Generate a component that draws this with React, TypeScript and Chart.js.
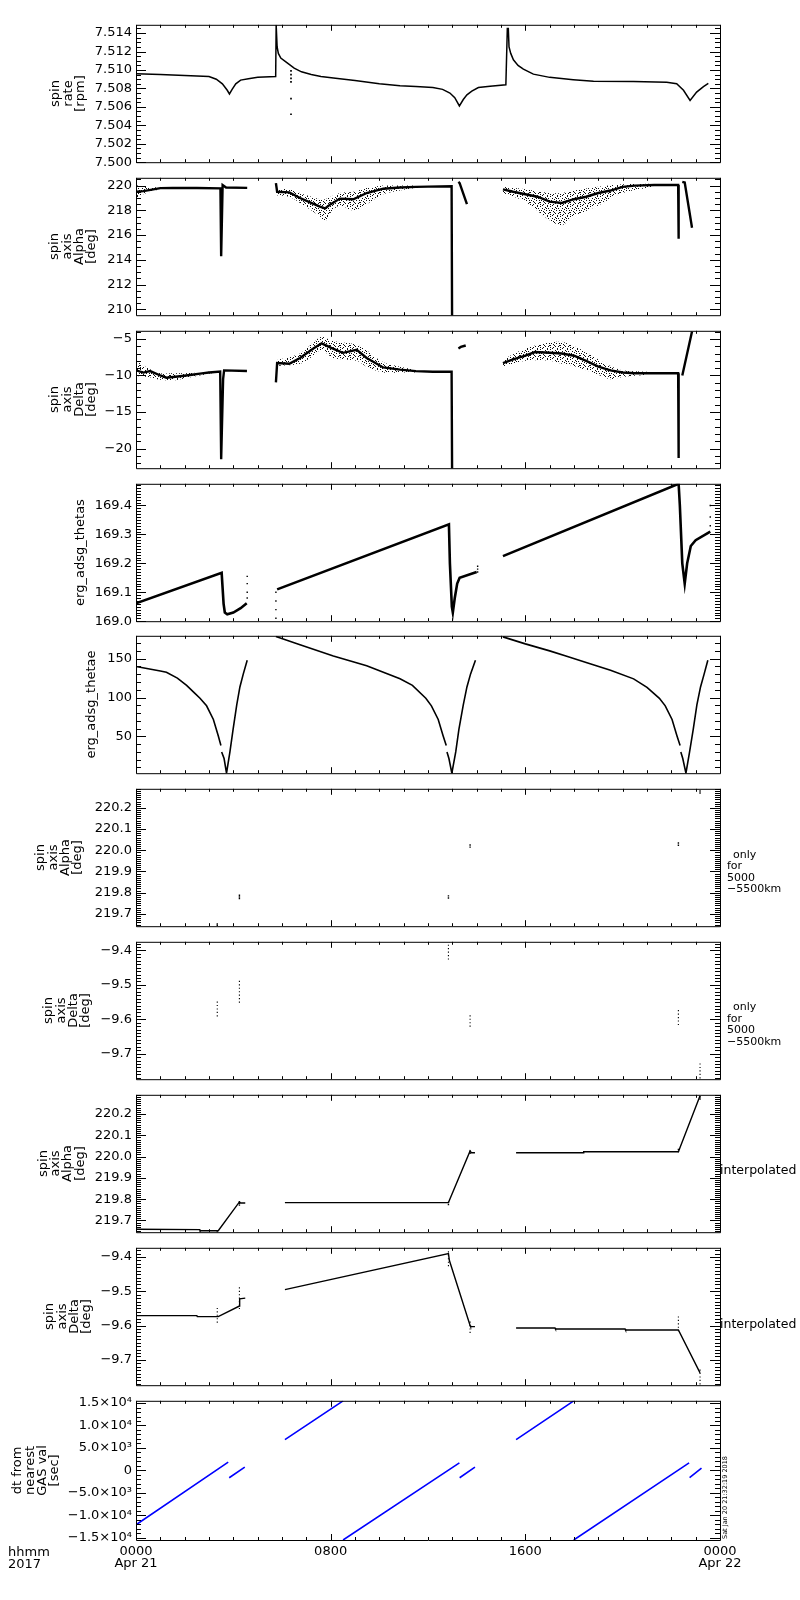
import React, { useEffect, useRef } from 'react';
import { Chart, registerables } from 'chart.js';

Chart.register(...registerables);

const FONT = '"DejaVu Sans", sans-serif';
const PAD = 10;
const PLOT_H = 141;
const XAXIS_H = 50;

// ---- shared time axis (hours after 0000 UT Apr 21 2017)
const hourTicks = [0, 8, 16, 24];
const hourLabels = [['0000', 'Apr 21'], ['0800'], ['1600'], ['0000', 'Apr 22']];
const panelTops = [23, 176, 329, 482, 634, 787, 940, 1093, 1246, 1399];

// ---- panel 1: spin rate [rpm]
const rateTicks = [7.5, 7.502, 7.504, 7.506, 7.508, 7.51, 7.512, 7.514];
const rateLabels = ['7.500', '7.502', '7.504', '7.506', '7.508', '7.510', '7.512', '7.514'];
const rateHours = [0, 1, 2, 3, 3.3, 3.55, 3.75, 3.84, 3.95, 4.1, 4.3, 4.62, 5.0, 5.74, 5.76, 5.8, 5.85, 5.95, 6.2, 6.5, 6.8, 7.2, 7.6, 8.2, 9.0, 10.0, 10.85, 11.5, 12.2, 12.6, 12.9, 13.1, 13.29, 13.45, 13.6, 13.8, 14.07, 14.55, 15.2, 15.26, 15.3, 15.33, 15.4, 15.51, 15.7, 15.92, 16.33, 17.0, 17.97, 18.8, 20.44, 21.81, 22.22, 22.5, 22.77, 23.04, 23.32, 23.52];
const rateValues = [7.5096, 7.5095, 7.5094, 7.5093, 7.509, 7.5085, 7.5078, 7.5074, 7.5079, 7.5085, 7.5089, 7.50905, 7.5092, 7.5093, 7.5149, 7.5125, 7.5118, 7.5113, 7.5108, 7.5102, 7.5098, 7.5095, 7.5093, 7.5091, 7.50885, 7.5085, 7.5083, 7.5082, 7.5081, 7.5079, 7.5075, 7.507, 7.5061, 7.5068, 7.5073, 7.5077, 7.5081, 7.50824, 7.5084, 7.5145, 7.5145, 7.5125, 7.5118, 7.5111, 7.5105, 7.5101, 7.50955, 7.5092, 7.50895, 7.50877, 7.50874, 7.50866, 7.5085, 7.5078, 7.5067, 7.5076, 7.5082, 7.50856];
const rateSpikeHours = [6.37, 6.37, 6.37, 6.37, 6.37, 6.37];
const rateSpikeValues = [7.5099, 7.5095, 7.5091, 7.5087, 7.5069, 7.5052];

// ---- panel 2: spin axis Alpha [deg]
const alphaTicks = [210, 212, 214, 216, 218, 220];
const alphaLabels = ['210', '212', '214', '216', '218', '220'];
const alphaHours = [0, 0.3, 0.6, 1.0, 1.5, 2.5, 3.47, 3.5, 3.56, 3.7, 4.57, 5.0, 5.75, 5.8, 6.3, 6.74, 7.2, 7.56, 7.77, 8.0, 8.38, 8.93, 9.48, 10.16, 10.85, 11.5, 12.0, 12.97, 12.99, 13.1, 13.25, 13.3, 13.6, 14.3, 15.08, 15.5, 16.0, 16.5, 17.0, 17.5, 18.0, 18.5, 19.0, 19.5, 20.0, 20.5, 21.3, 22.28, 22.3, 22.4, 22.45, 22.55, 22.85];
const alphaValues = [219.5, 219.55, 219.65, 219.8, 219.82, 219.8, 219.78, 214.3, 220.05, 219.85, 219.82, null, 220.2, 219.5, 219.45, 219.0, 218.6, 218.3, 218.15, 218.5, 218.95, 218.9, 219.4, 219.75, 219.85, 219.9, 219.92, 219.95, 209.0, null, 220.3, 220.2, 218.5, null, 219.7, 219.5, 219.3, 219.1, 218.7, 218.6, 218.9, 219.1, 219.4, 219.6, 219.9, 220.0, 220.05, 220.05, 215.7, null, 220.3, 220.25, 216.6];
const alphaCloud1Hours = [0, 0.3, 0.6, 1.0];
const alphaCloud1High = [220.05, 219.9, 219.85, 219.9];
const alphaCloud1Low = [219.0, 219.3, 219.5, 219.7];
const alphaCloud2Hours = [5.8, 6.3, 6.74, 7.2, 7.56, 7.77, 8.0, 8.38, 8.93, 9.48, 10.16, 10.85, 11.5];
const alphaCloud2High = [219.7, 219.7, 219.4, 219.1, 218.9, 218.9, 219.1, 219.4, 219.5, 219.8, 220.0, 220.0, 220.0];
const alphaCloud2Low = [219.2, 219.1, 218.6, 218.0, 217.5, 217.1, 217.8, 218.4, 218.0, 218.5, 219.3, 219.6, 219.8];
const alphaCloud3Hours = [15.08, 16, 17, 17.5, 18, 19, 20, 21.3];
const alphaCloud3High = [219.9, 219.7, 219.4, 219.4, 219.6, 219.9, 220.1, 220.15];
const alphaCloud3Low = [219.4, 218.7, 217.2, 216.8, 217.5, 218.4, 219.4, 219.9];

// ---- panel 3: spin axis Delta [deg]
const deltaTicks = [-20, -15, -10, -5];
const deltaLabels = ['\u221220', '\u221215', '\u221210', '\u22125'];
const deltaHours = [0, 0.3, 0.58, 1.0, 1.25, 1.81, 2.3, 2.63, 3.0, 3.46, 3.5, 3.58, 3.62, 4.56, 5.0, 5.75, 5.8, 6.3, 6.74, 7.29, 7.63, 8.0, 8.5, 9.07, 9.48, 10.16, 10.85, 11.5, 12.2, 12.97, 12.99, 13.05, 13.25, 13.35, 13.55, 14.3, 15.08, 15.5, 16.0, 16.4, 17.0, 17.5, 18.0, 18.5, 19.0, 19.5, 20.0, 20.5, 21.0, 22.28, 22.3, 22.4, 22.45, 22.85];
const deltaValues = [-9.3, -9.6, -9.4, -10.0, -10.3, -10.1, -9.9, -9.75, -9.6, -9.45, -21.45, -10.5, -9.3, -9.38, null, -10.95, -8.3, -8.4, -7.6, -6.3, -5.6, -6.2, -6.9, -6.5, -7.6, -8.9, -9.2, -9.4, -9.5, -9.5, -23, null, -6.3, -6.1, -5.9, null, -8.3, -7.8, -7.3, -6.8, -6.9, -7.0, -7.3, -8.0, -8.8, -9.3, -9.6, -9.7, -9.7, -9.7, -21.3, null, -10, -4];
const deltaCloud1Hours = [0, 0.5, 1.0, 1.5, 2.0, 2.6, 3.4];
const deltaCloud1High = [-8.0, -9.0, -9.7, -9.7, -9.7, -9.6, -9.35];
const deltaCloud1Low = [-10.1, -10.2, -10.6, -10.7, -10.4, -10.0, -9.55];
const deltaCloud2Hours = [5.8, 6.74, 7.29, 7.63, 8.1, 9.07, 9.48, 10.16, 10.85, 11.5];
const deltaCloud2High = [-7.9, -7.0, -5.5, -4.7, -5.3, -5.8, -6.6, -8.2, -8.8, -9.2];
const deltaCloud2Low = [-8.7, -8.4, -7.3, -6.5, -7.6, -8.0, -8.8, -9.6, -9.6, -9.6];
const deltaCloud3Hours = [15.08, 16, 17, 17.5, 18, 18.5, 19, 19.5, 20, 21];
const deltaCloud3High = [-7.8, -6.3, -5.5, -5.4, -6.0, -6.8, -7.8, -8.7, -9.3, -9.5];
const deltaCloud3Low = [-8.8, -8.0, -8.0, -8.4, -8.7, -9.3, -9.9, -10.5, -10.2, -9.9];

// ---- panel 4: erg_adsg_thetas
const thetasTicks = [169.0, 169.1, 169.2, 169.3, 169.4];
const thetasLabels = ['169.0', '169.1', '169.2', '169.3', '169.4'];
const thetasHours = [0, 3.52, 3.6, 3.65, 3.75, 4.0, 4.3, 4.55, 4.6, 5.8, 12.86, 12.9, 12.98, 13.02, 13.1, 13.2, 13.3, 14.0, 14.1, 15.08, 22.3, 22.35, 22.45, 22.55, 22.65, 22.8, 23.0, 23.6];
const thetasValues = [169.062, 169.167, 169.06, 169.03, 169.024, 169.03, 169.045, 169.062, null, 169.11, 169.335, 169.2, 169.05, 169.03, 169.08, 169.13, 169.15, 169.17, null, 169.225, 169.475, 169.4, 169.2, 169.13, 169.2, 169.26, 169.28, 169.31];
const thetasDotHours = [4.57, 4.57, 4.57, 4.57, 5.75, 5.75, 5.75, 5.75, 14.04, 14.04, 14.04, 23.6, 23.6, 23.6];
const thetasDotValues = [169.08, 169.1, 169.13, 169.155, 169.01, 169.04, 169.07, 169.1, 169.17, 169.18, 169.19, 169.33, 169.36, 169.4];

// ---- panel 5: erg_adsg_thetae
const thetaeTicks = [50, 100, 150];
const thetaeLabels = ['50', '100', '150'];
const thetaeHours = [0, 0.5, 1.0, 1.25, 1.7, 2.08, 2.4, 2.63, 2.9, 3.18, 3.38, 3.49, 3.505, 3.52, 3.62, 3.72, 3.86, 3.99, 4.14, 4.27, 4.41, 4.57, 5.0, 5.75, 6.74, 8.11, 9.48, 10.85, 11.36, 11.91, 12.14, 12.42, 12.62, 12.75, 12.765, 12.78, 12.86, 12.98, 13.14, 13.27, 13.45, 13.6, 13.75, 13.95, 14.5, 15.08, 16.0, 17.0, 17.7, 18.5, 19.5, 20.45, 21.0, 21.51, 21.75, 22.03, 22.23, 22.36, 22.375, 22.39, 22.47, 22.6, 22.75, 22.9, 23.05, 23.2, 23.35, 23.5];
const thetaeValues = [140, 137, 134, 132.4, 125, 115.7, 106, 99, 89.3, 71.7, 50.8, 38.2, null, 30, 21.5, 2.6, 30, 59, 90.6, 113.6, 130.4, 148, null, 178.5, 168, 153.4, 140.8, 124, 115.7, 99, 89.3, 71.7, 50.8, 38.2, null, 30, 21.5, 2.6, 30, 59, 90.6, 113.6, 130.4, 148, null, 178, 169, 160, 153, 145, 135, 124, 113, 99, 89.3, 71.7, 50.8, 38.2, null, 30, 21.5, 2.6, 30, 59, 90.6, 113.6, 130.4, 148];

// ---- panels 6/8: fine alpha scale
const fineAlphaTicks = [219.7, 219.8, 219.9, 220.0, 220.1, 220.2];
const fineAlphaLabels = ['219.7', '219.8', '219.9', '220.0', '220.1', '220.2'];
const fineAlphaHours = [3.34, 3.34, 4.25, 4.25, 4.25, 12.84, 12.84, 13.73, 13.73, 22.29, 22.29, 23.18, 23.18];
const fineAlphaValues = [219.645, 219.652, 219.772, 219.78, 219.788, 219.775, 219.785, 220.015, 220.025, 220.024, 220.034, 220.27, 220.28];

// ---- panels 7/9: fine delta scale
const fineDeltaTicks = [-9.7, -9.6, -9.5, -9.4];
const fineDeltaLabels = ['\u22129.7', '\u22129.6', '\u22129.5', '\u22129.4'];
const fineDeltaHours = [3.34, 3.34, 3.34, 3.34, 3.34, 4.25, 4.25, 4.25, 4.25, 4.25, 4.25, 4.25, 12.84, 12.84, 12.84, 12.84, 12.84, 13.73, 13.73, 13.73, 13.73, 22.29, 22.29, 22.29, 22.29, 22.29, 23.18, 23.18, 23.18, 23.18, 23.18];
const fineDeltaValues = [-9.55, -9.56, -9.57, -9.58, -9.59, -9.49, -9.5, -9.51, -9.52, -9.53, -9.54, -9.55, -9.385, -9.395, -9.405, -9.415, -9.425, -9.59, -9.6, -9.61, -9.62, -9.575, -9.585, -9.595, -9.605, -9.615, -9.73, -9.74, -9.75, -9.76, -9.77];

// ---- panel 8: interpolated alpha
const interpAlphaHours = [0, 2.62, 2.63, 3.38, 4.25, 4.3, 4.49, 5.3, 6.12, 12.84, 13.73, 13.78, 13.93, 14.8, 15.62, 18.38, 18.4, 22.29, 23.18];
const interpAlphaValues = [219.659, 219.657, 219.652, 219.652, 219.787, 219.782, 219.782, null, 219.784, 219.784, 220.026, 220.018, 220.018, null, 220.018, 220.018, 220.023, 220.023, 220.285];

// ---- panel 9: interpolated delta
const interpDeltaHours = [0, 2.5, 2.52, 3.38, 4.25, 4.26, 4.49, 5.3, 6.12, 12.84, 12.88, 13.73, 13.75, 13.93, 14.8, 15.62, 17.22, 17.24, 20.1, 20.12, 22.29, 23.18];
const interpDeltaValues = [-9.571, -9.571, -9.574, -9.574, -9.543, -9.522, -9.52, null, -9.495, -9.39, -9.41, -9.6, -9.603, -9.603, null, -9.607, -9.607, -9.61, -9.61, -9.613, -9.613, -9.738];

// ---- panel 10: dt from nearest GAS val [sec]
const dtTicks = [-15000, -10000, -5000, 0, 5000, 10000, 15000];
const dtLabels = ['\u22121.5\u00d710\u2074', '\u22121.0\u00d710\u2074', '\u22125.0\u00d710\u00b3', '0', '5.0\u00d710\u00b3', '1.0\u00d710\u2074', '1.5\u00d710\u2074'];
const dtHours = [0, 3.79, 3.81, 3.83, 4.47, 5.3, 6.12, 8.51, 8.51, 8.51, 13.29, 13.295, 13.3, 13.93, 14.8, 15.62, 17.99, 17.99, 17.99, 22.73, 22.74, 22.75, 23.24];
const dtValues = [-12100, 1840, null, -1630, 730, null, 6860, 15500, null, -15500, 1680, null, -1630, 730, null, 6860, 15500, null, -15500, 1680, null, -1630, 520];

// speckle tile used to texture the scatter clouds (fixed hand-placed pixels)
const speckleTile = [[0, 0], [5, 1], [2, 2], [8, 2], [6, 4], [3, 5], [0, 6], [9, 6], [5, 7], [2, 9], [7, 9], [4, 3], [1, 4], [7, 0], [8, 7], [3, 8], [6, 2], [9, 4], [0, 8], [4, 6]];

// ---------------------------------------------------------------
const xy = (xs: number[], ys: (number | null)[]) => xs.map((x, i) => ({ x, y: ys[i] }));

const line = (xs: number[], ys: (number | null)[], color = '#000', width = 1.2) => ({
  data: xy(xs, ys), borderColor: color, borderWidth: width, pointRadius: 0,
  fill: false, spanGaps: false, tension: 0, clip: 0,
});
const dots = (xs: number[], ys: number[], r = 1.2) => ({
  data: xy(xs, ys), showLine: false, pointRadius: r, pointStyle: 'rect',
  backgroundColor: '#000', borderWidth: 0, clip: 0,
});
const cloud = (xs: number[], hi: number[], lo: number[], pat: any) => [
  { data: xy(xs, hi), borderColor: 'rgba(0,0,0,0)', borderWidth: 0, pointRadius: 0, fill: '+1', backgroundColor: pat, tension: 0.3, clip: 0 },
  { data: xy(xs, lo), borderColor: 'rgba(0,0,0,0)', borderWidth: 0, pointRadius: 0, fill: false, tension: 0.3, clip: 0 },
];

type Note = { lines: string[]; xs: number[]; y0: number; lh: number; size: number };
type Spec = {
  top: number; min: number; max: number;
  ticks: number[]; labels: string[]; minor: number;
  title: string[]; titleX: number;
  build: (pat: any) => any[];
  notes?: Note;
  last?: boolean;
};

const onlyNote = (y0: number): Note => ({ lines: ['only', 'for', '5000', '\u22125500km'], xs: [733, 727, 727, 727], y0, lh: 11.4, size: 11 });
const interpNote = (y0: number): Note => ({ lines: ['interpolated'], xs: [720], y0, lh: 12, size: 12.5 });

const specs: Spec[] = [
  {
    top: panelTops[0], min: 7.5, max: 7.5149, ticks: rateTicks, labels: rateLabels, minor: 0.0005,
    title: ['spin', 'rate', '[rpm]'], titleX: 56,
    build: () => [line(rateHours, rateValues, '#000', 1.5), dots(rateSpikeHours, rateSpikeValues)],
  },
  {
    top: panelTops[1], min: 209.53, max: 220.63, ticks: alphaTicks, labels: alphaLabels, minor: 0.5,
    title: ['spin', 'axis', 'Alpha', '[deg]'], titleX: 55,
    build: (pat) => [
      ...cloud(alphaCloud1Hours, alphaCloud1High, alphaCloud1Low, pat),
      ...cloud(alphaCloud2Hours, alphaCloud2High, alphaCloud2Low, pat),
      ...cloud(alphaCloud3Hours, alphaCloud3High, alphaCloud3Low, pat),
      line(alphaHours, alphaValues, '#000', 2.4),
    ],
  },
  {
    top: panelTops[2], min: -22.68, max: -3.89, ticks: deltaTicks, labels: deltaLabels, minor: 1,
    title: ['spin', 'axis', 'Delta', '[deg]'], titleX: 55,
    build: (pat) => [
      ...cloud(deltaCloud1Hours, deltaCloud1High, deltaCloud1Low, pat),
      ...cloud(deltaCloud2Hours, deltaCloud2High, deltaCloud2Low, pat),
      ...cloud(deltaCloud3Hours, deltaCloud3High, deltaCloud3Low, pat),
      line(deltaHours, deltaValues, '#000', 2.4),
    ],
  },
  {
    top: panelTops[3], min: 169.0, max: 169.475, ticks: thetasTicks, labels: thetasLabels, minor: 0.01,
    title: ['erg_adsg_thetas'], titleX: 80.5,
    build: () => [line(thetasHours, thetasValues, '#000', 2.6), dots(thetasDotHours, thetasDotValues, 1)],
  },
  {
    top: panelTops[4], min: 2.6, max: 179.4, ticks: thetaeTicks, labels: thetaeLabels, minor: 10,
    title: ['erg_adsg_thetae'], titleX: 92,
    build: () => [line(thetaeHours, thetaeValues, '#000', 1.6)],
  },
  {
    top: panelTops[5], min: 219.642, max: 220.29, ticks: fineAlphaTicks, labels: fineAlphaLabels, minor: 0.01,
    title: ['spin', 'axis', 'Alpha', '[deg]'], titleX: 41,
    build: () => [dots(fineAlphaHours, fineAlphaValues, 1)],
    notes: onlyNote(855),
  },
  {
    top: panelTops[6], min: -9.774, max: -9.375, ticks: fineDeltaTicks, labels: fineDeltaLabels, minor: 0.01,
    title: ['spin', 'axis', 'Delta', '[deg]'], titleX: 49,
    build: () => [dots(fineDeltaHours, fineDeltaValues, 0.8)],
    notes: onlyNote(1007.5),
  },
  {
    top: panelTops[7], min: 219.645, max: 220.29, ticks: fineAlphaTicks, labels: fineAlphaLabels, minor: 0.01,
    title: ['spin', 'axis', 'Alpha', '[deg]'], titleX: 43.5,
    build: () => [line(interpAlphaHours, interpAlphaValues, '#000', 1.4), dots(fineAlphaHours, fineAlphaValues, 1)],
    notes: interpNote(1171),
  },
  {
    top: panelTops[8], min: -9.774, max: -9.373, ticks: fineDeltaTicks, labels: fineDeltaLabels, minor: 0.01,
    title: ['spin', 'axis', 'Delta', '[deg]'], titleX: 50,
    build: () => [line(interpDeltaHours, interpDeltaValues, '#000', 1.4), dots(fineDeltaHours, fineDeltaValues, 0.8)],
    notes: interpNote(1324.5),
  },
  {
    top: panelTops[9], min: -15500, max: 15500, ticks: dtTicks, labels: dtLabels, minor: 1000,
    title: ['dt from', 'nearest', 'GAS val', '[sec]'], titleX: 18,
    build: () => [line(dtHours, dtValues, '#0000ff', 1.6)],
    last: true,
  },
];

function overlay(spec: Spec) {
  return {
    id: 'idlOverlay',
    afterDatasetsDraw(chart: any) {
      const { ctx, chartArea: a } = chart;
      const sx = chart.scales.x;
      const sy = chart.scales.y;
      ctx.save();
      ctx.strokeStyle = '#000';
      ctx.lineWidth = 1;
      ctx.beginPath();
      ctx.rect(a.left + 0.5, a.top + 0.5, a.right - a.left, a.bottom - a.top);
      for (let h = 0; h <= 24; h++) {
        const px = Math.round(sx.getPixelForValue(h)) + 0.5;
        const len = h % 8 === 0 ? 6 : 3;
        ctx.moveTo(px, a.top); ctx.lineTo(px, a.top + len);
        ctx.moveTo(px, a.bottom); ctx.lineTo(px, a.bottom - len);
      }
      const n0 = Math.ceil(spec.min / spec.minor - 1e-6);
      const n1 = Math.floor(spec.max / spec.minor + 1e-6);
      for (let k = n0; k <= n1; k++) {
        const v = k * spec.minor;
        const py = Math.round(sy.getPixelForValue(v)) + 0.5;
        const major = spec.ticks.some((t) => Math.abs(t - v) < spec.minor * 0.01);
        const len = major ? 10 : 5;
        ctx.moveTo(a.left, py); ctx.lineTo(a.left + len, py);
        ctx.moveTo(a.right, py); ctx.lineTo(a.right - len, py);
      }
      ctx.stroke();

      const off = spec.top - PAD;
      ctx.fillStyle = '#000';
      ctx.textBaseline = 'middle';
      ctx.textAlign = 'left';
      if (spec.notes) {
        const n = spec.notes;
        ctx.font = `${n.size}px ${FONT}`;
        n.lines.forEach((t, i) => ctx.fillText(t, n.xs[i], n.y0 + i * n.lh - off));
      }
      if (spec.last) {
        ctx.font = `13px ${FONT}`;
        ctx.fillText('hhmm', 8, 1553 - off);
        ctx.fillText('2017', 8, 1565 - off);
        ctx.save();
        ctx.translate(725, 1539 - off);
        ctx.rotate(-Math.PI / 2);
        ctx.font = `6.5px ${FONT}`;
        ctx.fillText('Sat Jan 20 21:32:19 2018', 0, 0);
        ctx.restore();
      }
      ctx.restore();
    },
  };
}

function makePattern(canvas: HTMLCanvasElement) {
  const c = document.createElement('canvas');
  c.width = 10; c.height = 10;
  const g = c.getContext('2d')!;
  g.fillStyle = 'rgba(0,0,0,0.95)';
  speckleTile.forEach(([px, py]) => g.fillRect(px, py, 1, 1));
  const ctx = canvas.getContext('2d')!;
  return ctx.createPattern(c, 'repeat');
}

function Panel({ spec }: { spec: Spec }) {
  const ref = useRef<HTMLCanvasElement>(null);
  const h = PAD + PLOT_H + (spec.last ? XAXIS_H : PAD);
  useEffect(() => {
    const canvas = ref.current!;
    const pat = makePattern(canvas);
    const chart = new Chart(canvas, {
      type: 'line',
      data: { datasets: spec.build(pat) as any },
      options: {
        responsive: false,
        animation: false,
        devicePixelRatio: 1,
        events: [],
        layout: { padding: { left: 0, right: 80, top: PAD, bottom: spec.last ? 0 : PAD } },
        plugins: { legend: { display: false }, tooltip: { enabled: false } },
        scales: {
          x: {
            type: 'linear', min: 0, max: 24, display: !!spec.last,
            grid: { display: false, drawTicks: false }, border: { display: false },
            afterBuildTicks: (s: any) => { s.ticks = hourTicks.map((v) => ({ value: v })); },
            afterFit: (s: any) => { s.height = spec.last ? XAXIS_H : 0; },
            ticks: {
              autoSkip: false, maxRotation: 0, padding: 6, color: '#000',
              font: { family: FONT, size: 13, lineHeight: '12px' },
              callback: (_v: any, i: number) => hourLabels[i],
            },
          },
          y: {
            type: 'linear', min: spec.min, max: spec.max,
            grid: { display: false, drawTicks: false }, border: { display: false },
            afterBuildTicks: (s: any) => { s.ticks = spec.ticks.map((v) => ({ value: v })); },
            afterFit: (s: any) => { s.width = 136; },
            ticks: {
              autoSkip: false, padding: 4, color: '#000',
              font: { family: FONT, size: 13 },
              callback: (_v: any, i: number) => spec.labels[i],
            },
            title: {
              display: true, text: spec.title, color: '#000',
              font: { family: FONT, size: 13, lineHeight: '12.3px' },
              padding: { top: spec.titleX - 6.15, bottom: 0 },
            },
          },
        },
      } as any,
      plugins: [overlay(spec)],
    });
    return () => chart.destroy();
  }, []);
  return (
    <canvas
      ref={ref}
      width={800}
      height={h}
      style={{ position: 'absolute', left: 0, top: spec.top - PAD, width: 800, height: h }}
    />
  );
}

export default function App() {
  return (
    <div style={{ position: 'absolute', left: 0, top: 0, width: 800, height: 1600, background: '#fff' }}>
      {specs.map((s, i) => <Panel key={i} spec={s} />)}
    </div>
  );
}
